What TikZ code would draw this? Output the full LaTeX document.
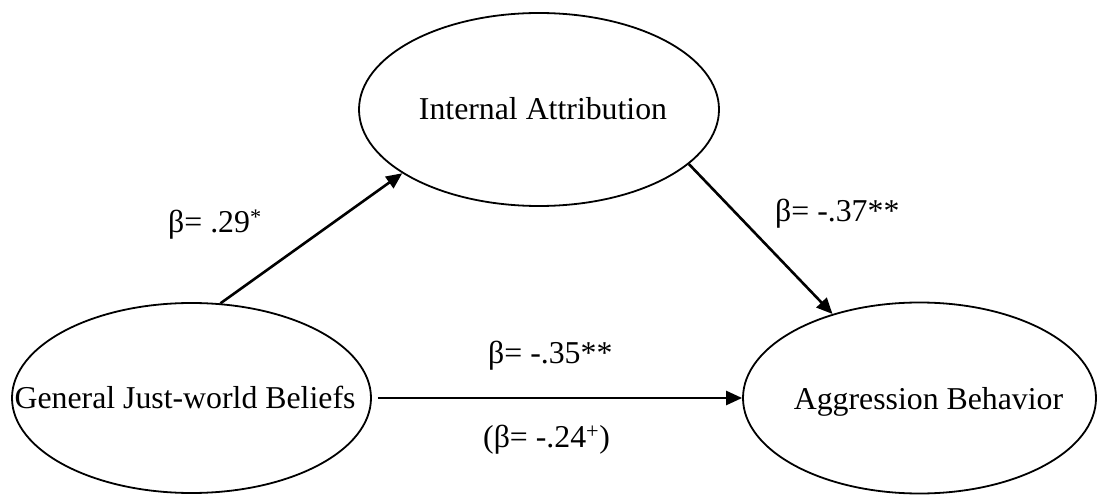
\documentclass[tikz,border=0pt]{standalone}
\usepackage{fontspec}
\setmainfont{Liberation Serif}
\usetikzlibrary{shapes.geometric,arrows.meta}
\begin{document}
\begin{tikzpicture}[x=1bp,y=-1bp,
  latent/.style={draw=black,line width=1.8bp,ellipse,inner sep=0pt},
  txt/.style={inner sep=0pt,anchor=base,font=\fontsize{31.8bp}{38bp}\selectfont},
  coef/.style={inner sep=0pt,anchor=base west,font=\fontsize{31.8bp}{38bp}\selectfont},
  arr/.style={draw=black,line width=2.6bp,-{Triangle[length=16bp,width=14bp]}}]
\useasboundingbox (0,0) rectangle (1097,495);
% latent variables
\node[latent,minimum width=359bp,minimum height=190bp] (gjw) at (191.5,398) {};
\node[latent,minimum width=360bp,minimum height=193bp] (ia) at (539,109.5) {};
\node[latent,minimum width=353bp,minimum height=191bp] (ab) at (919.5,398) {};
% labels inside
\node[txt] (tgjw) at (185,408) {General Just-world Beliefs};
\node[txt] (tia) at (543,119.5) {Internal Attribution};
\node[txt] (tab) at (928.5,409) {Aggression Behavior};
% paths
\draw[arr] (gjw.73.6) -- (ia.-155);
\draw[arr] (ia.-20.6) -- (ab.136);
\draw[arr,shorten <=6bp] (gjw.east) -- (ab.west);
% coefficients
\node[coef] (c1) at (168,233) {β= .29\textsuperscript{*}};
\node[coef] (c2) at (775,222) {β= -.37**};
\node[coef] (c3) at (488,364) {β= -.35**};
\node[coef] (c4) at (483,447) {(β= -.24\textsuperscript{+})};
\end{tikzpicture}
\end{document}
